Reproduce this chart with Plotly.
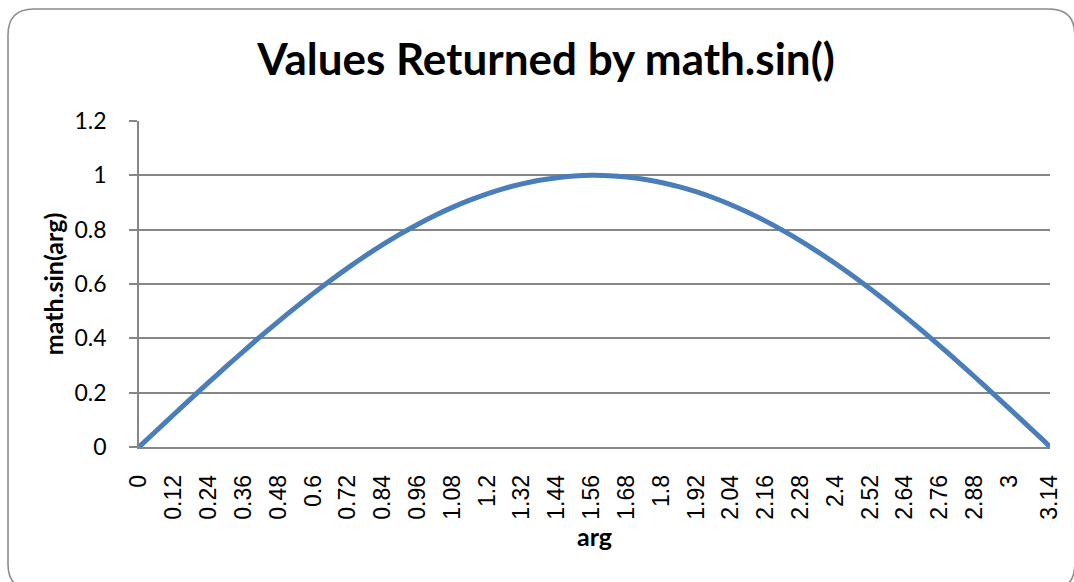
import plotly.graph_objects as go

# Sampled arguments and the values math.sin() returned for them
arg = [0.00, 0.06, 0.12, 0.18, 0.24, 0.30, 0.36, 0.42, 0.48, 0.54,
       0.60, 0.66, 0.72, 0.78, 0.84, 0.90, 0.96, 1.02, 1.08, 1.14,
       1.20, 1.26, 1.32, 1.38, 1.44, 1.50, 1.56, 1.62, 1.68, 1.74,
       1.80, 1.86, 1.92, 1.98, 2.04, 2.10, 2.16, 2.22, 2.28, 2.34,
       2.40, 2.46, 2.52, 2.58, 2.64, 2.70, 2.76, 2.82, 2.88, 2.94,
       3.00, 3.06, 3.11, 3.14]
sin_val = [0.00000, 0.05996, 0.11971, 0.17903, 0.23770, 0.29552, 0.35227, 0.40776, 0.46178, 0.51414,
           0.56464, 0.61312, 0.65938, 0.70328, 0.74464, 0.78333, 0.81919, 0.85211, 0.88196, 0.90863,
           0.93204, 0.95209, 0.96872, 0.98185, 0.99146, 0.99749, 0.99994, 0.99879, 0.99404, 0.98572,
           0.97385, 0.95847, 0.93965, 0.91744, 0.89193, 0.86321, 0.83138, 0.79657, 0.75888, 0.71847,
           0.67546, 0.63004, 0.58233, 0.53254, 0.48082, 0.42739, 0.37240, 0.31608, 0.25862, 0.20024,
           0.14112, 0.08151, 0.03159, 0.00159]

# Category labels shown along the x axis
x_tick_vals = [0, 0.12, 0.24, 0.36, 0.48, 0.6, 0.72, 0.84, 0.96, 1.08, 1.2, 1.32, 1.44,
               1.56, 1.68, 1.8, 1.92, 2.04, 2.16, 2.28, 2.4, 2.52, 2.64, 2.76, 2.88, 3, 3.14]
x_tick_text = ["0", "0.12", "0.24", "0.36", "0.48", "0.6", "0.72", "0.84", "0.96", "1.08",
               "1.2", "1.32", "1.44", "1.56", "1.68", "1.8", "1.92", "2.04", "2.16", "2.28",
               "2.4", "2.52", "2.64", "2.76", "2.88", "3", "3.14"]
y_tick_vals = [0, 0.2, 0.4, 0.6, 0.8, 1.0, 1.2]
y_tick_text = ["0", "0.2", "0.4", "0.6", "0.8", "1", "1.2"]

W, H = 1074, 582
L, R, T, B = 139, 1057, 121, 447  # plot-area edges in pixels
FONT = "Lato, Carlito, Calibri, sans-serif"
TICK_FONT = "Liberation Sans, Arial, sans-serif"
LINE = "#4a7ebb"
GRID = "#868686"


def px(x):
    return (x - L) / (R - L)


def py(y):
    return 1 - (y - T) / (B - T)


fig = go.Figure()
fig.add_trace(go.Scatter(
    x=arg, y=sin_val, mode="lines",
    line=dict(color=LINE, width=5, shape="spline", smoothing=0.6),
    hoverinfo="x+y", showlegend=False,
))
fig.add_trace(go.Scatter(
    x=arg[-1:], y=sin_val[-1:], mode="markers",
    marker=dict(color=LINE, size=7), showlegend=False, hoverinfo="skip",
))

# Rounded chart-area border
bl, bt, br, bb, r = 7, 9, 1082, 590, 26
border = (f"M {px(bl)},{py(bt + r)} Q {px(bl)},{py(bt)} {px(bl + r)},{py(bt)} "
          f"L {px(br - r)},{py(bt)} Q {px(br)},{py(bt)} {px(br)},{py(bt + r)} "
          f"L {px(br)},{py(bb - r)} Q {px(br)},{py(bb)} {px(br - r)},{py(bb)} "
          f"L {px(bl + r)},{py(bb)} Q {px(bl)},{py(bb)} {px(bl)},{py(bb - r)} Z")
fig.add_shape(type="path", path=border, xref="paper", yref="paper",
              line=dict(color="#8c8c8c", width=1.6), layer="below")

fig.update_layout(
    width=W, height=H,
    margin=dict(l=L, r=W - R, t=T, b=H - B, pad=0),
    paper_bgcolor="white", plot_bgcolor="white",
    font=dict(family=FONT, color="black", size=20),
    title=dict(text="<b>Values Returned by math.sin()</b>",
               font=dict(family=FONT, size=44, color="black"),
               x=546 / W, xanchor="center", y=1 - 60 / H, yanchor="middle"),
    xaxis=dict(
        range=[0, 3.14], tickmode="array", tickvals=x_tick_vals, ticktext=x_tick_text,
        tickangle=-90, showgrid=False, zeroline=False,
        showline=True, linecolor=GRID, linewidth=1.5, ticks="",
        tickfont=dict(family=TICK_FONT, size=23), ticklabelstandoff=17,
        title=dict(text="<b>arg</b>", font=dict(size=25), standoff=10),
    ),
    yaxis=dict(
        range=[0, 1.2], tickmode="array", tickvals=y_tick_vals, ticktext=y_tick_text,
        showgrid=True, gridcolor=GRID, gridwidth=1.5, zeroline=False,
        showline=True, linecolor=GRID, linewidth=1.5,
        ticks="outside", ticklen=8, tickcolor=GRID, tickwidth=1.5,
        tickfont=dict(size=23), ticklabelstandoff=18,
        title=dict(text="<b>math.sin(arg)</b>", font=dict(size=25), standoff=4),
    ),
)

fig.write_html("out.html")
